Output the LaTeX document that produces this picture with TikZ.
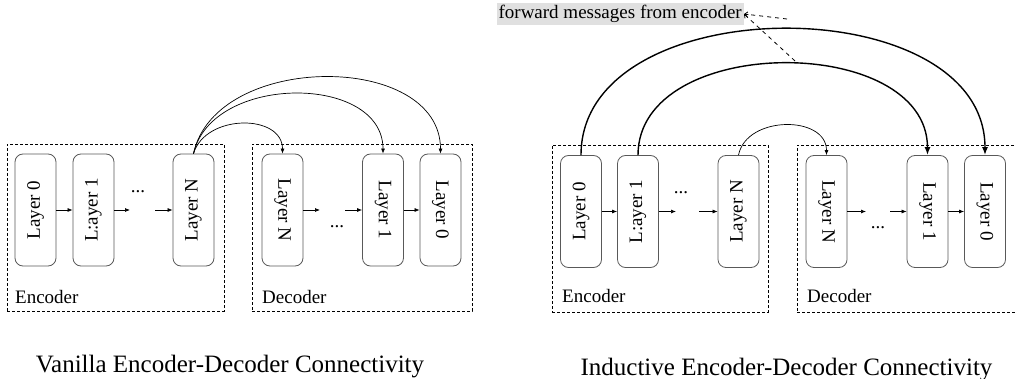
\documentclass[tikz,border=0pt]{standalone}
\usepackage{fontspec}
\setmainfont{Liberation Serif}
\usepackage{graphicx}
\usetikzlibrary{arrows.meta}
\begin{document}
\begin{tikzpicture}[x=1pt,y=-1pt,
  layer/.style={draw=black!65, line width=0.8pt, rounded corners=8pt,
    minimum width=41pt, minimum height=112pt, inner sep=0pt,
    font=\fontsize{19}{22}\selectfont},
  group/.style={draw, dash pattern=on 3pt off 2pt, line width=0.8pt, inner sep=0pt},
  lbl/.style={font=\fontsize{19}{22}\selectfont, anchor=base west, inner sep=0pt},
  dotsnode/.style={font=\fontsize{19}{22}\selectfont, inner sep=0pt},
  flow/.style={-{Latex[length=5pt,width=4pt]}, line width=0.7pt},
  skip/.style={-{Latex[length=5pt,width=4pt]}, line width=0.7pt},
  skipthick/.style={-{Latex[length=8pt,width=6pt]}, line width=1.4pt},
  note/.style={dash pattern=on 4pt off 4pt, line width=0.8pt, -{Straight Barb[length=3pt,width=5pt]}},
  captext/.style={font=\fontsize{25}{30}\selectfont, anchor=base, inner sep=0pt},
]
\useasboundingbox (0,0) rectangle (1016,379);

% ---------- Vanilla: encoder ----------
\node[group, minimum width=217pt, minimum height=167pt] (encA) at (115.5,227.5) {};
\node[layer] (aE0) at (35.5,210) {\rotatebox{90}{Layer 0}};
\node[layer] (aE1) at (93.5,210) {\rotatebox{90}{L:ayer 1}};
\node[layer] (aEN) at (193.5,210) {\rotatebox{90}{Layer N}};
\coordinate (aEa) at (130,210);
\coordinate (aEb) at (155,210);
\node[dotsnode] (aEd) at (138,192) {...};
\draw[flow] (aE0.east) -- (aE1.west);
\draw[flow] (aE1.east) -- (aEa);
\draw[flow] (aEb) -- (aEN.west);
\node[lbl] (aEl) at (15,303) {Encoder};

% ---------- Vanilla: decoder ----------
\node[group, minimum width=220pt, minimum height=167pt] (decA) at (362,227.5) {};
\node[layer] (aDN) at (282.5,210) {\rotatebox{-90}{Layer N}};
\node[layer] (aD1) at (383,210) {\rotatebox{-90}{Layer 1}};
\node[layer] (aD0) at (440.5,210) {\rotatebox{-90}{Layer 0}};
\coordinate (aDa) at (320,210);
\coordinate (aDb) at (345,210);
\node[dotsnode] (aDd) at (337,227) {...};
\draw[flow] (aDN.east) -- (aDa);
\draw[flow] (aDb) -- (aD1.west);
\draw[flow] (aD1.east) -- (aD0.west);
\node[lbl] (aDl) at (262,303) {Decoder};

% skip connections from the top encoder layer
\draw[skip] (aEN.north) .. controls +(12,-40) and +(0,-40) .. (aDN.north);
\draw[skip] (aEN.north) .. controls +(18,-80) and +(0,-80) .. (aD1.north);
\draw[skip] (aEN.north) .. controls +(22,-102) and +(0,-102) .. (aD0.north);

\node[captext] (capA) at (230,372) {Vanilla Encoder-Decoder Connectivity};

% ---------- Inductive: encoder ----------
\node[group, minimum width=216pt, minimum height=167pt] (encB) at (660,228.5) {};
\node[layer] (bE0) at (581,211.5) {\rotatebox{90}{Layer 0}};
\node[layer] (bE1) at (638,211.5) {\rotatebox{90}{L:ayer 1}};
\node[layer] (bEN) at (738.5,211.5) {\rotatebox{90}{Layer N}};
\coordinate (bEa) at (676,211.5);
\coordinate (bEb) at (699,211.5);
\node[dotsnode] (bEd) at (681,193) {...};
\draw[flow] (bE0.east) -- (bE1.west);
\draw[flow] (bE1.east) -- (bEa);
\draw[flow] (bEb) -- (bEN.west);
\node[lbl] (bEl) at (562,302) {Encoder};

% ---------- Inductive: decoder ----------
\node[group, minimum width=220pt, minimum height=167pt] (decB) at (907,228.5) {};
\node[layer] (bDN) at (826.5,211.5) {\rotatebox{-90}{Layer N}};
\node[layer] (bD1) at (927.5,211.5) {\rotatebox{-90}{Layer 1}};
\node[layer] (bD0) at (985,211.5) {\rotatebox{-90}{Layer 0}};
\coordinate (bDa) at (866,211.5);
\coordinate (bDb) at (890,211.5);
\node[dotsnode] (bDd) at (878,228) {...};
\draw[flow] (bDN.east) -- (bDa);
\draw[flow] (bDb) -- (bD1.west);
\draw[flow] (bD1.east) -- (bD0.west);
\node[lbl] (bDl) at (807,302) {Decoder};

% layer-wise connections
\draw[skip] (bEN.north) .. controls +(8,-40) and +(0,-40) .. (bDN.north);
\draw[skipthick] (bE1.north) .. controls +(0,-122) and +(0,-122) .. (bD1.north);
\draw[skipthick] (bE0.north) .. controls +(0,-168) and +(0,-168) .. (bD0.north);

% annotation
\node[fill=black!12, font=\fontsize{19}{22}\selectfont, inner sep=2pt, anchor=east] (fwd) at (744,14) {forward messages from encoder};
\coordinate (fwdA) at (787,19);
\coordinate (fwdB) at (795,61);
\draw[note] (fwdA) -- (fwd.east);
\draw[note] (fwdB) -- (fwd.east);

\node[captext] (capB) at (786.5,375) {Inductive Encoder-Decoder Connectivity};
\end{tikzpicture}
\end{document}
